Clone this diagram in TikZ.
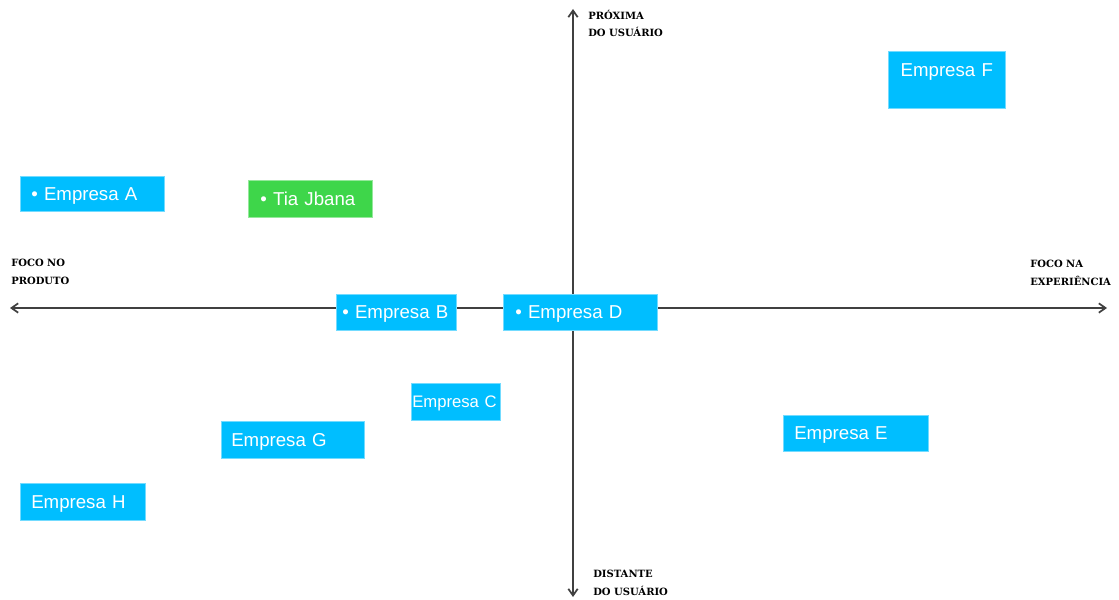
\documentclass[tikz,border=0pt]{standalone}
\usepackage{fontspec}
\setmainfont{Liberation Sans}
\newfontfamily\axisfont{DejaVu Serif Bold}
\usetikzlibrary{arrows.meta}
\definecolor{empblue}{RGB}{0,190,255}
\definecolor{empgreen}{RGB}{62,214,74}
\definecolor{axisgray}{RGB}{64,64,64}

\begin{document}
\begin{tikzpicture}[x=0.75pt, y=-0.75pt, >={Straight Barb[length=5pt,width=7pt]},
  axis/.style={draw=axisgray, line width=1.3pt, <->},
  axislabel/.style={anchor=north west, inner sep=0pt, align=left, font=\axisfont\fontsize{7.5}{13}\selectfont},
  empbox/.style={anchor=north west, fill=empblue, draw=empblue!55!white, line width=0.4pt, text=white, inner ysep=0pt, text depth=0pt, align=left, font=\fontsize{14}{16}\selectfont},
  tiabox/.style={empbox, fill=empgreen, draw=empgreen!55!white}]
\useasboundingbox (0,0) rectangle (1119,599);
\coordinate (W) at (10,308);
\coordinate (E) at (1107,308);
\coordinate (N) at (573,9);
\coordinate (S) at (573,597);
\draw [axis] (W) -- (E) ;
\draw [axis] (N) -- (S) ;
\node[axislabel] (top) at (588,10) {PRÓXIMA\\DO USUÁRIO};
\node[axislabel] (bottom) at (593,570) {DISTANTE\\DO USUÁRIO};
\node[axislabel] (left) at (11,259) {FOCO NO\\PRODUTO};
\node[axislabel] (right) at (1030,260) {FOCO NA\\EXPERIÊNCIA};
\node[empbox, inner xsep=8.25pt, text width=91.5pt, minimum height=26.25pt] (A) at (20,176) {• Empresa A};
\node[tiabox, inner xsep=9pt, text width=75pt, minimum height=27.75pt] (T) at (248,180) {• Tia Jbana};
\node[empbox, inner xsep=4.5pt, text width=81pt, minimum height=27pt] (B) at (336,294) {• Empresa B};
\node[empbox, inner xsep=9pt, text width=97.5pt, minimum height=27pt] (D) at (503,294) {• Empresa D};
\node[empbox, inner xsep=0.75pt, text width=65.25pt, minimum height=27.75pt, font=\fontsize{12.5}{14}\selectfont] (C) at (411,383) {Empresa C};
\node[empbox, inner xsep=7.5pt, text width=92.25pt, minimum height=27.75pt] (G) at (221,421) {Empresa G};
\node[empbox, inner xsep=8.25pt, text width=77.25pt, minimum height=27.75pt] (H) at (20,483) {Empresa H};
\node[empbox, inner xsep=8.25pt, text width=92.25pt, minimum height=27pt] (E1) at (783,415) {Empresa E};
\node[empbox, align=center, inner xsep=0pt, text width=87.75pt, text height=18.75pt, text depth=24pt] (F) at (888,51) {Empresa F};
\end{tikzpicture}
\end{document}
